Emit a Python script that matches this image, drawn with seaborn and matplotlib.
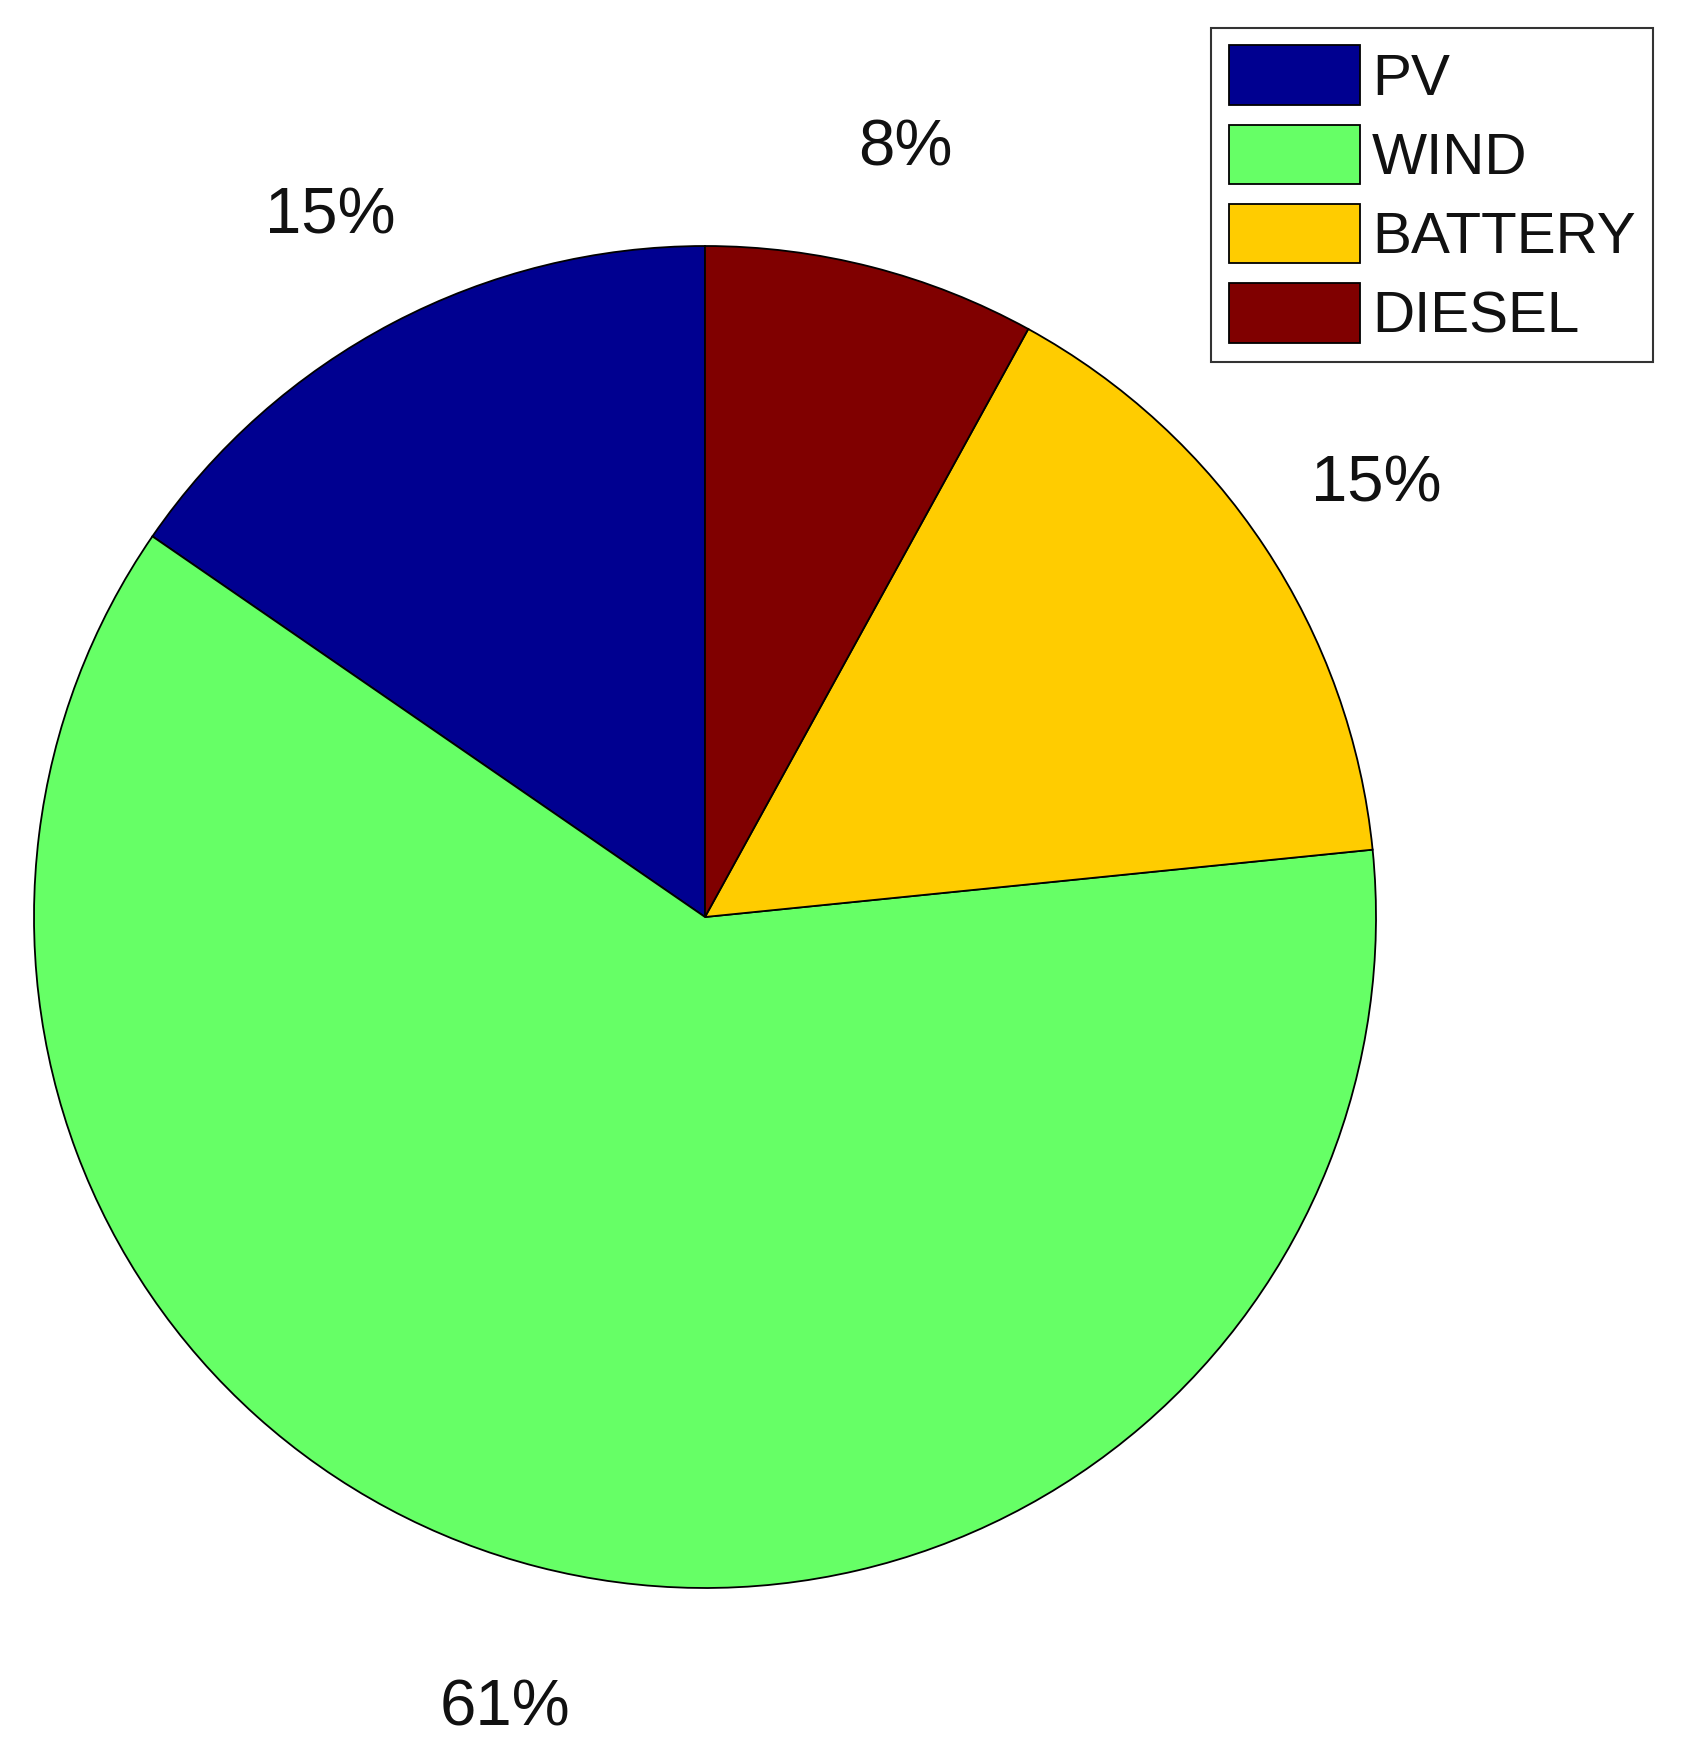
import matplotlib

matplotlib.use("Agg")
import matplotlib.pyplot as plt
import seaborn as sns

sources = ["PV", "WIND", "BATTERY", "DIESEL"]
shares = [15.4, 61.2, 15.4, 8.0]
share_labels = ["15%", "61%", "15%", "8%"]
colors = ["#000090", "#66FF66", "#FFCC00", "#800000"]

sns.set_theme(style="white")
plt.rcParams["font.family"] = ["Liberation Sans", "DejaVu Sans"]
plt.rcParams["text.color"] = "black"

W, H = 1694, 1755
fig = plt.figure(figsize=(W / 100, H / 100), dpi=100)
cx, cy, r = 705, 917, 671
ax = fig.add_axes([(cx - r) / W, (H - cy - r) / H, 2 * r / W, 2 * r / H])

wedges, texts = ax.pie(
    shares,
    labels=share_labels,
    colors=colors,
    startangle=90,
    counterclock=True,
    labeldistance=1.2,
    wedgeprops={"edgecolor": "black", "linewidth": 1.3},
    textprops={"fontsize": 47, "color": "#111111"},
)
for t in texts:
    t.set_ha("center")
    t.set_va("center_baseline")
    x, y = t.get_position()
    t.set_position((x, y - 0.008))
ax.set_xlim(-1, 1)
ax.set_ylim(-1, 1)
ax.set_aspect("equal")
ax.axis("off")

leg = fig.legend(
    wedges,
    sources,
    loc="upper right",
    bbox_to_anchor=(1653 / W, 1 - 28 / H),
    bbox_transform=fig.transFigure,
    fontsize=42,
    frameon=True,
    fancybox=False,
    edgecolor="black",
    handlelength=2.25,
    handleheight=1.2,
    handletextpad=0.2,
    labelspacing=0.3,
    borderpad=0.3,
    borderaxespad=0,
)
leg.get_frame().set_linewidth(1.5)
for t in leg.get_texts():
    t.set_color("#111111")

fig.savefig("out.png", dpi=100, facecolor="white")
